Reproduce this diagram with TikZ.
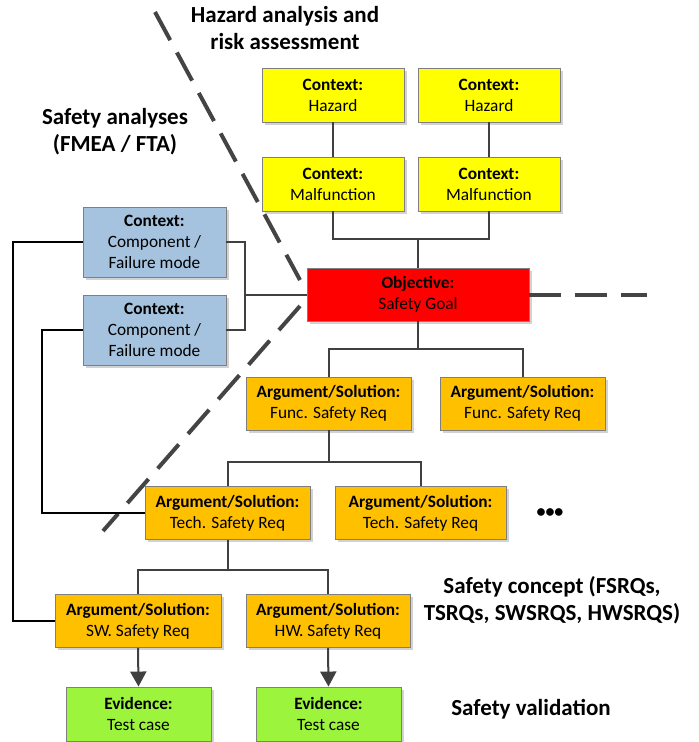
\documentclass[tikz,border=0pt]{standalone}
\usepackage{fontspec}
\setmainfont{Carlito}
\usetikzlibrary{arrows.meta,shadows}
\definecolor{hzyellow}{HTML}{FFFF00}
\definecolor{ctxblue}{HTML}{A5C3DE}
\definecolor{objred}{HTML}{FF0000}
\definecolor{argorange}{HTML}{FFC000}
\definecolor{evgreen}{HTML}{9CF53C}
\definecolor{linegray}{HTML}{404040}
\definecolor{bordergray}{HTML}{7F7F7F}
\definecolor{dashgray}{HTML}{444444}
\begin{document}
\begin{tikzpicture}[x=1pt,y=-1pt,
  box/.style={draw=bordergray, line width=0.9pt, align=center, inner sep=0pt,
    font=\fontsize{17.3}{21}\selectfont,
    drop shadow={shadow xshift=2.5pt, shadow yshift=-2.5pt, fill=black!22, opacity=0.8}},
  yelbox/.style={box, fill=hzyellow, minimum width=142pt, minimum height=54pt},
  bluebox/.style={box, fill=ctxblue, minimum width=143pt, minimum height=70pt},
  redbox/.style={box, fill=objred, minimum width=222pt, minimum height=53pt},
  orbox/.style={box, fill=argorange, minimum width=166pt, minimum height=53pt},
  grbox/.style={box, fill=evgreen, minimum width=145pt, minimum height=54pt},
  conn/.style={draw=linegray, line width=2pt},
  lconn/.style={draw=black, line width=2.5pt},
  dline/.style={draw=dashgray, line width=4pt, dash pattern=on 32pt off 14pt},
  title/.style={font=\fontsize{23}{27}\selectfont\bfseries, align=center},
  arr/.style={conn, -{Triangle[width=16pt,length=15pt]}}
]
\useasboundingbox (0,0) rectangle (699,742);

% dashed separators
\coordinate (da1) at (155,12);
\coordinate (da2) at (300,280);
\coordinate (db1) at (300,306);
\coordinate (db2) at (103,531);
\coordinate (dc2) at (647,294.5);
\draw[dline] (da1) -- (da2);
\draw[dline] (db1) -- (db2);

% titles
\node[title] (t1) at (285,28) {Hazard analysis and\\risk assessment};
\node[title] (t2) at (115,132) {Safety analyses\\(FMEA / FTA)};
\node[title] (t3) at (552,600) {Safety concept (FSRQs,\\TSRQs, SWSRQS, HWSRQS)};
\node[title] (t4) at (531,709) {Safety validation};
\node[font=\fontsize{18}{18}\selectfont\bfseries] (dots) at (550,513) {\textbullet\textbullet\textbullet};

% boxes
\node[yelbox] (haz1) at (333,95) {\textbf{Context:}\\Hazard};
\node[yelbox] (haz2) at (489,95) {\textbf{Context:}\\Hazard};
\node[yelbox] (mal1) at (333,184) {\textbf{Context:}\\Malfunction};
\node[yelbox] (mal2) at (489,184) {\textbf{Context:}\\Malfunction};
\node[bluebox] (comp1) at (154.5,242) {\textbf{Context:}\\Component /\\Failure mode};
\node[bluebox] (comp2) at (154.5,330) {\textbf{Context:}\\Component /\\Failure mode};
\node[redbox] (obj) at (418,294.5) {\textbf{Objective:}\\Safety Goal};
\draw[dline] (obj.east) -- (dc2);
\node[orbox, minimum width=165pt] (fsr1) at (328.5,403.5) {\textbf{Argument/Solution:}\\Func. Safety Req};
\node[orbox, minimum width=165pt] (fsr2) at (522.5,403.5) {\textbf{Argument/Solution:}\\Func. Safety Req};
\node[orbox, minimum width=165pt] (tsr1) at (227.5,513) {\textbf{Argument/Solution:}\\Tech. Safety Req};
\node[orbox, minimum width=171pt] (tsr2) at (420.5,513) {\textbf{Argument/Solution:}\\Tech. Safety Req};
\node[orbox] (sw) at (138,621) {\textbf{Argument/Solution:}\\SW. Safety Req};
\node[orbox, minimum width=164pt] (hw) at (328,621) {\textbf{Argument/Solution:}\\HW. Safety Req};
\node[grbox] (ev1) at (138.5,714) {\textbf{Evidence:}\\Test case};
\node[grbox] (ev2) at (328.5,714) {\textbf{Evidence:}\\Test case};

% junction coordinates
\coordinate (j1) at (418,239);
\coordinate (j2) at (245,294.5);
\coordinate (j3) at (418,349);
\coordinate (j4) at (328.5,462);
\coordinate (j5) at (227.5,570);
\coordinate (l1) at (13,242);
\coordinate (l2) at (42,330);

% connectors
\draw[conn] (haz1.south) -- (mal1.north);
\draw[conn] (haz2.south) -- (mal2.north);
\draw[conn] (mal1.south) |- (j1) -| (mal2.south);
\draw[conn] (j1) -- (obj.north);
\draw[conn] (comp1.east) -| (j2) |- (comp2.east);
\draw[conn] (j2) -- (obj.west);
\draw[conn] (obj.south) -- (j3);
\draw[conn] (fsr1.north) |- (j3) -| (fsr2.north);
\draw[conn] (fsr1.south) -- (j4);
\draw[conn] (tsr1.north) |- (j4) -| (tsr2.north);
\draw[conn] (tsr1.south) -- (j5);
\draw[conn] (sw.north) |- (j5) -| (hw.north);
\draw[lconn] (comp1.west) -- (l1) |- (sw.west);
\draw[lconn] (comp2.west) -- (l2) |- (tsr1.west);
\draw[arr] (sw.south) -- (ev1.north);
\draw[arr] (hw.south) -- (ev2.north);
\end{tikzpicture}
\end{document}
